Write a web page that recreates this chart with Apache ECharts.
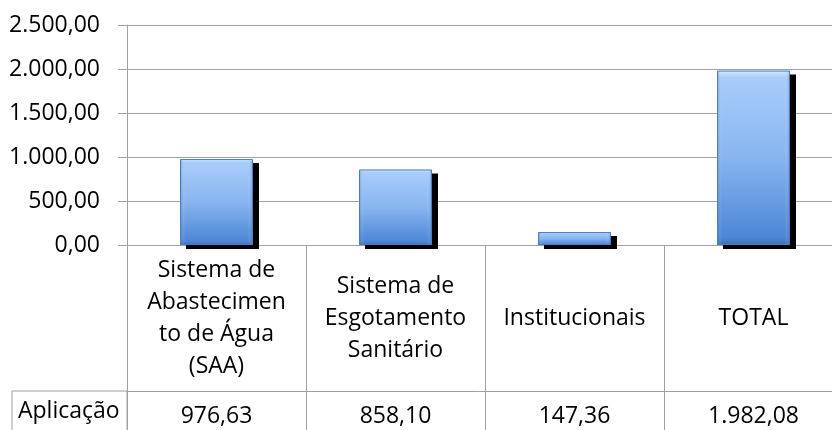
<!DOCTYPE html>
<html><head><meta charset="utf-8">
<script src="https://cdn.jsdelivr.net/npm/echarts@6/dist/echarts.min.js"></script>
<style>html,body{margin:0;padding:0;background:#fff}#c{width:832px;height:430px}</style>
</head><body><div id="c"></div>
<script>
var categories = ['Sistema de\nAbastecimen\nto de Água\n(SAA)', 'Sistema de\nEsgotamento\nSanitário', 'Institucionais', 'TOTAL'];
var seriesName = 'Aplicação';
var values = [976.63, 858.10, 147.36, 1982.08];
var yTicks = [0, 500, 1000, 1500, 2000, 2500];

function fmt(v) {
  var s = Number(v).toFixed(2).split('.');
  var i = s[0].replace(/\B(?=(\d{3})+(?!\d))/g, '.');
  return i + ',' + s[1];
}

var FONT = 'Open Sans';
var LINE = '#a0a0a0';
var chart = echarts.init(document.getElementById('c'));
chart.setOption({
  animation: false,
  textStyle: { fontFamily: FONT },
  grid: { left: 127, width: 716, top: 25, bottom: 185, outerBoundsMode: 'none' },
  xAxis: [{
    type: 'category',
    data: categories,
    position: 'bottom',
    axisLine: { show: true, lineStyle: { color: LINE, width: 1 } },
    axisTick: { show: true, length: 190, alignWithLabel: false, lineStyle: { color: LINE, width: 1 } },
    axisLabel: { interval: 0, color: '#000', fontFamily: FONT, fontSize: 23, lineHeight: 32, verticalAlign: 'middle', margin: 73 }
  }, {
    type: 'category',
    data: categories,
    position: 'bottom',
    offset: 146,
    axisLine: { show: true, lineStyle: { color: LINE, width: 1 } },
    axisTick: { show: false },
    axisLabel: {
      interval: 0, color: '#000', fontFamily: FONT, fontSize: 23, verticalAlign: 'middle', margin: 25,
      formatter: function (v, idx) { return fmt(values[idx]); }
    }
  }],
  yAxis: {
    type: 'value',
    min: yTicks[0], max: yTicks[yTicks.length - 1], interval: 500,
    axisLine: { show: true, lineStyle: { color: LINE, width: 1 } },
    axisTick: { show: true, length: 9, lineStyle: { color: LINE } },
    splitLine: { show: true, lineStyle: { color: LINE, width: 1 } },
    axisLabel: { color: '#000', fontFamily: FONT, fontSize: 23, margin: 27, formatter: function (v) { return fmt(v); } }
  },
  graphic: [
    { type: 'rect', shape: { x: 12, y: 391, width: 115, height: 60 }, style: { fill: 'none', stroke: LINE, lineWidth: 1 } },
    { type: 'text', left: 18, top: 400, style: { text: seriesName, font: '23px "Open Sans"', fill: '#000' } }
  ],
  series: [{
    name: seriesName,
    type: 'bar',
    data: values,
    barWidth: 73,
    itemStyle: {
      color: new echarts.graphic.LinearGradient(0, 0, 0, 1, [
        { offset: 0, color: '#d6ebff' },
        { offset: 0.04, color: '#a8cdfb' },
        { offset: 0.5, color: '#88b5f0' },
        { offset: 0.96, color: '#4c86d6' },
        { offset: 1, color: '#3b6db4' }
      ]),
      borderWidth: 0,
      shadowColor: '#000', shadowBlur: 0, shadowOffsetX: 6, shadowOffsetY: 4
    }
  }, {
    name: seriesName,
    type: 'bar',
    data: values,
    barWidth: 73,
    barGap: '-100%',
    silent: true,
    itemStyle: {
      color: new echarts.graphic.LinearGradient(0, 0, 1, 0, [
        { offset: 0, color: 'rgba(40,80,150,0.35)' },
        { offset: 0.07, color: 'rgba(255,255,255,0)' },
        { offset: 0.93, color: 'rgba(255,255,255,0)' },
        { offset: 1, color: 'rgba(40,80,150,0.35)' }
      ]),
      borderColor: '#4d7cc0', borderWidth: 1
    }
  }]
});
</script></body></html>
